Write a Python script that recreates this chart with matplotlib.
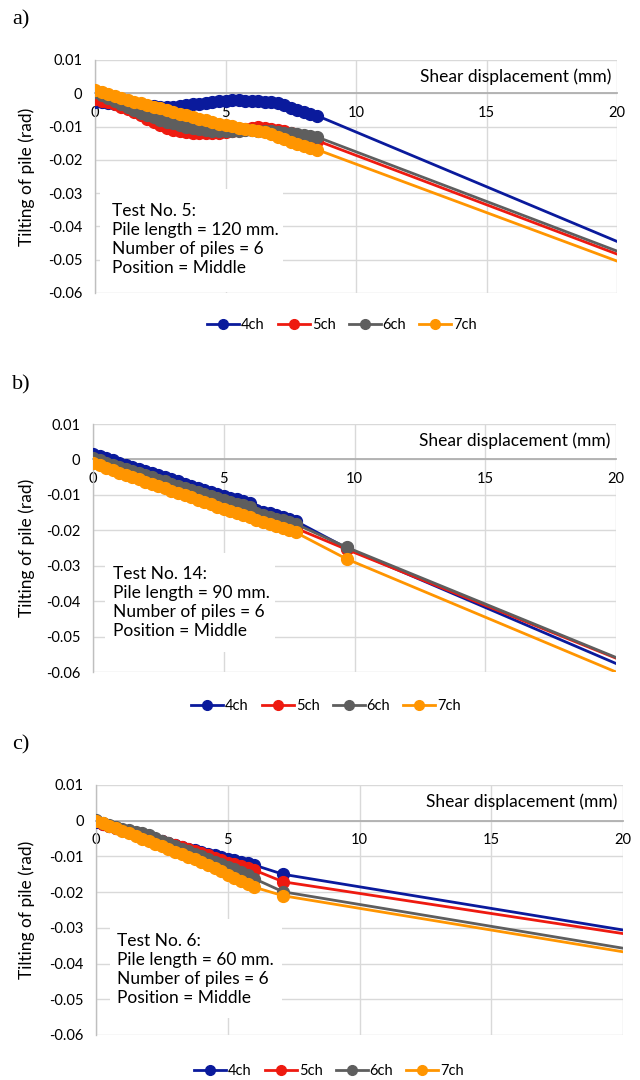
import matplotlib
matplotlib.use("Agg")
import matplotlib.pyplot as plt
from matplotlib.patches import Rectangle
from matplotlib.lines import Line2D

plt.rcParams['font.family'] = ['Lato', 'DejaVu Sans']

channels = ['4ch', '5ch', '6ch', '7ch']
colors = ['#0A1A9C', '#EE1A10', '#5E5E5E', '#FF9500']

# ---- panel a: Test No. 5 ----
xa = [0, 0.25, 0.5, 0.75, 1.0, 1.25, 1.5, 1.75, 2.0, 2.25, 2.5, 2.75, 3.0, 3.25, 3.5,
      3.75, 4.0, 4.25, 4.5, 4.75, 5.0, 5.25, 5.5, 5.75, 6.0, 6.25, 6.5, 6.75, 7.0,
      7.25, 7.5, 7.75, 8.0, 8.25, 8.5, 20]
a_4ch = [-0.0025, -0.0027, -0.0029, -0.0031, -0.0033, -0.0035, -0.0036, -0.0037, -0.0038,
         -0.0039, -0.0040, -0.0041, -0.0040, -0.0038, -0.0036, -0.0033, -0.0031, -0.0029,
         -0.0026, -0.0023, -0.0022, -0.0021, -0.0021, -0.0022, -0.0023, -0.0024, -0.0025,
         -0.0027, -0.0030, -0.0036, -0.0043, -0.0050, -0.0056, -0.0061, -0.0067, -0.0445]
a_5ch = [-0.0018, -0.0022, -0.0027, -0.0033, -0.0040, -0.0048, -0.0057, -0.0066, -0.0076,
         -0.0086, -0.0095, -0.0103, -0.0109, -0.0113, -0.0116, -0.0118, -0.0119, -0.0119,
         -0.0119, -0.0118, -0.0117, -0.0114, -0.0110, -0.0106, -0.0103, -0.0102, -0.0104,
         -0.0106, -0.0109, -0.0113, -0.0118, -0.0124, -0.0130, -0.0136, -0.0142, -0.0483]
a_6ch = [0.0004, -0.0004, -0.0013, -0.0022, -0.0031, -0.0040, -0.0050, -0.0058, -0.0066,
         -0.0072, -0.0079, -0.0085, -0.0090, -0.0095, -0.0100, -0.0104, -0.0107, -0.0110,
         -0.0112, -0.0113, -0.0114, -0.0113, -0.0112, -0.0111, -0.0111, -0.0112, -0.0113,
         -0.0114, -0.0116, -0.0118, -0.0120, -0.0122, -0.0124, -0.0127, -0.0131, -0.0474]
a_7ch = [0.0009, 0.0004, -0.0002, -0.0008, -0.0014, -0.0020, -0.0025, -0.0030, -0.0035,
         -0.0040, -0.0045, -0.0051, -0.0056, -0.0061, -0.0066, -0.0071, -0.0076, -0.0081,
         -0.0086, -0.0091, -0.0095, -0.0099, -0.0103, -0.0106, -0.0109, -0.0112, -0.0117,
         -0.0123, -0.0130, -0.0138, -0.0146, -0.0153, -0.0159, -0.0164, -0.0169, -0.0504]

# ---- panel b: Test No. 14 ----
xb = [0, 0.25, 0.5, 0.75, 1.0, 1.25, 1.5, 1.75, 2.0, 2.25, 2.5, 2.75, 3.0, 3.25, 3.5,
      3.75, 4.0, 4.25, 4.5, 4.75, 5.0, 5.25, 5.5, 5.75, 6.0, 6.25, 6.5, 6.75, 7.0,
      7.25, 7.5, 7.75, 9.7, 20]
b_4ch = [0.0015, 0.0009, 0.0003, -0.0003, -0.0009, -0.0015, -0.0021, -0.0027, -0.0033,
         -0.0039, -0.0045, -0.0050, -0.0056, -0.0062, -0.0068, -0.0074, -0.0080, -0.0086,
         -0.0092, -0.0097, -0.0103, -0.0108, -0.0113, -0.0118, -0.0123, -0.0143, -0.0147,
         -0.0152, -0.0157, -0.0163, -0.0168, -0.0174, -0.0250, -0.0576]
b_5ch = [-0.0006, -0.0013, -0.0019, -0.0025, -0.0032, -0.0038, -0.0044, -0.0050, -0.0057,
         -0.0064, -0.0069, -0.0075, -0.0081, -0.0087, -0.0093, -0.0099, -0.0105, -0.0111,
         -0.0117, -0.0123, -0.0129, -0.0134, -0.0140, -0.0145, -0.0151, -0.0163, -0.0168,
         -0.0173, -0.0179, -0.0184, -0.0189, -0.0194, -0.0254, -0.0561]
b_6ch = [0.0003, -0.0003, -0.0009, -0.0015, -0.0021, -0.0027, -0.0033, -0.0039, -0.0045,
         -0.0051, -0.0057, -0.0062, -0.0068, -0.0074, -0.0080, -0.0086, -0.0092, -0.0098,
         -0.0104, -0.0109, -0.0115, -0.0120, -0.0125, -0.0130, -0.0135, -0.0152, -0.0157,
         -0.0162, -0.0167, -0.0172, -0.0177, -0.0182, -0.0248, -0.0559]
b_7ch = [-0.0011, -0.0017, -0.0023, -0.0030, -0.0037, -0.0043, -0.0050, -0.0056, -0.0063,
         -0.0069, -0.0075, -0.0082, -0.0088, -0.0094, -0.0101, -0.0107, -0.0114, -0.0120,
         -0.0126, -0.0133, -0.0139, -0.0145, -0.0151, -0.0157, -0.0162, -0.0170, -0.0176,
         -0.0182, -0.0188, -0.0194, -0.0200, -0.0206, -0.0281, -0.0600]

# ---- panel c: Test No. 6 ----
xc = [0, 0.25, 0.5, 0.75, 1.0, 1.25, 1.5, 1.75, 2.0, 2.25, 2.5, 2.75, 3.0, 3.25, 3.5,
      3.75, 4.0, 4.25, 4.5, 4.75, 5.0, 5.25, 5.5, 5.75, 6.0, 7.1, 20]
c_4ch = [-0.0003, -0.0010, -0.0016, -0.0021, -0.0026, -0.0031, -0.0036, -0.0040, -0.0045,
         -0.0051, -0.0057, -0.0062, -0.0068, -0.0073, -0.0078, -0.0082, -0.0087, -0.0092,
         -0.0097, -0.0102, -0.0107, -0.0111, -0.0115, -0.0119, -0.0124, -0.0150, -0.0306]
c_5ch = [-0.0002, -0.0009, -0.0015, -0.0021, -0.0027, -0.0032, -0.0037, -0.0042, -0.0047,
         -0.0052, -0.0058, -0.0063, -0.0069, -0.0074, -0.0080, -0.0085, -0.0091, -0.0097,
         -0.0103, -0.0110, -0.0117, -0.0122, -0.0127, -0.0132, -0.0138, -0.0171, -0.0316]
c_6ch = [0.0001, -0.0005, -0.0011, -0.0017, -0.0022, -0.0027, -0.0031, -0.0034, -0.0041,
         -0.0048, -0.0056, -0.0063, -0.0071, -0.0078, -0.0086, -0.0093, -0.0100, -0.0107,
         -0.0115, -0.0122, -0.0129, -0.0136, -0.0144, -0.0152, -0.0162, -0.0199, -0.0357]
c_7ch = [0.0000, -0.0007, -0.0014, -0.0021, -0.0028, -0.0035, -0.0042, -0.0050, -0.0057,
         -0.0064, -0.0072, -0.0079, -0.0087, -0.0094, -0.0101, -0.0108, -0.0115, -0.0124,
         -0.0133, -0.0142, -0.0151, -0.0160, -0.0168, -0.0177, -0.0186, -0.0210, -0.0367]

xticks = [0, 5, 10, 15, 20]
yticks = [0.01, 0, -0.01, -0.02, -0.03, -0.04, -0.05, -0.06]
ytick_labels = ['0.01', '0', '-0.01', '-0.02', '-0.03', '-0.04', '-0.05', '-0.06']

panels = [
    dict(tag='a)', tag_y=20, rect=[95, 60, 617, 293], x=xa, ys=[a_4ch, a_5ch, a_6ch, a_7ch],
         info='Test No. 5:\nPile length = 120 mm.\nNumber of piles = 6\nPosition = Middle',
         box=[100, 189, 283, 292], text_xy=(112, 239.5), legend=(342, 325)),
    dict(tag='b)', tag_y=385, rect=[93, 424, 616, 672], x=xb, ys=[b_4ch, b_5ch, b_6ch, b_7ch],
         info='Test No. 14:\nPile length = 90 mm.\nNumber of piles = 6\nPosition = Middle',
         box=[105, 553, 275, 652], text_xy=(113, 602.5), legend=(326, 706)),
    dict(tag='c)', tag_y=745, rect=[96, 785, 623, 1035], x=xc, ys=[c_4ch, c_5ch, c_6ch, c_7ch],
         info='Test No. 6:\nPile length = 60 mm.\nNumber of piles = 6\nPosition = Middle',
         box=[110, 919, 282, 1018], text_xy=(117, 969.5), legend=(329, 1071)),
]

W, H = 640, 1080
fig = plt.figure(figsize=(6.4, 10.8), dpi=100)

for p in panels:
    l, t, r, b = p['rect']
    ax = fig.add_axes([l / W, 1 - b / H, (r - l) / W, (b - t) / H])
    ax.set_xlim(0, 20)
    ax.set_ylim(-0.06, 0.01)
    ax.set_xticks(xticks)
    ax.set_yticks(yticks)
    ax.set_yticklabels(ytick_labels)
    ax.grid(True, color='#D9D9D9', lw=1.0, zorder=0)
    ax.set_axisbelow(True)
    for s in ['top', 'right']:
        ax.spines[s].set_visible(False)
    ax.spines['bottom'].set_position(('data', 0))
    ax.spines['bottom'].set_color('#B0B0B0')
    ax.spines['bottom'].set_linewidth(1.3)
    ax.spines['left'].set_color('#BFBFBF')
    ax.spines['left'].set_linewidth(1.0)
    ax.tick_params(length=0, labelsize=10.5, colors='#000000')
    ax.tick_params(axis='x', pad=9)
    ax.tick_params(axis='y', pad=9)

    # white text box hiding the grid
    bx0, by0, bx1, by1 = p['box']
    ax.add_patch(Rectangle(((bx0 - l) / (r - l), (b - by1) / (b - t)),
                           (bx1 - bx0) / (r - l), (by1 - by0) / (b - t),
                           transform=ax.transAxes, facecolor='white', edgecolor='none', zorder=1))
    tx, ty = p['text_xy']
    ax.text((tx - l) / (r - l), (b - ty) / (b - t), p['info'], transform=ax.transAxes,
            ha='left', va='center', fontsize=12.5, linespacing=1.22, zorder=2)

    for yv, c, name in zip(p['ys'], colors, channels):
        n = len(p['x'])
        ax.plot(p['x'], yv, color=c, lw=2.0, marker='o', ms=8.5, mec=c, mfc=c,
                markevery=list(range(n - 1)), label=name, zorder=3, clip_on=True)

    ax.text(0.99, (b - (t + 17)) / (b - t), 'Shear displacement (mm)', transform=ax.transAxes,
            ha='right', va='center', fontsize=12.5)
    ax.set_ylabel('Tilting of pile (rad)', fontsize=12.5)
    ax.yaxis.set_label_coords((35 - l) / (r - l), 0.5)

    handles = [Line2D([], [], color=c, lw=2.0, marker='o', ms=7) for c in colors]
    lx, ly = p['legend']
    fig.legend(handles, channels, loc='center', bbox_to_anchor=(lx / W, 1 - ly / H), ncol=4,
               frameon=False, fontsize=10.5, handlelength=2.2, handletextpad=0.12,
               columnspacing=0.9)

    fig.text(12 / W, 1 - p['tag_y'] / H, p['tag'], family='Liberation Serif', fontsize=16,
             va='center', ha='left')

fig.savefig('out.png', dpi=100)
